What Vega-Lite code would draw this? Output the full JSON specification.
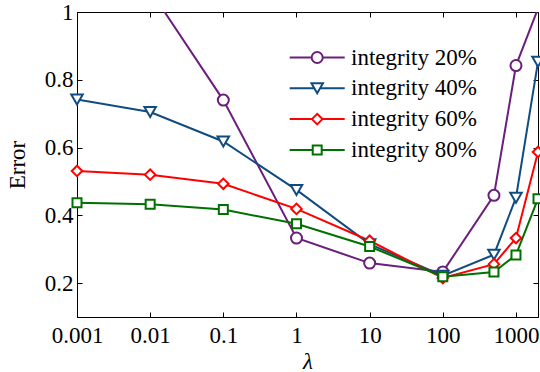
{
  "$schema": "https://vega.github.io/schema/vega-lite/v6.json",
  "width": 461,
  "height": 305,
  "autosize": {"type": "none"},
  "padding": {"left": 77, "top": 12, "right": 2, "bottom": 55},
  "background": "white",
  "config": {
    "font": "'Liberation Serif', 'Times New Roman', Times, serif",
    "view": {"stroke": "black", "strokeWidth": 1},
    "axis": {
      "grid": false,
      "labelFont": "'Liberation Serif', 'Times New Roman', Times, serif",
      "labelFontSize": 23,
      "labelColor": "black",
      "titleFont": "'Liberation Serif', 'Times New Roman', Times, serif",
      "titleFontSize": 23,
      "titleFontWeight": "normal",
      "titleColor": "black",
      "domainColor": "black",
      "tickColor": "black",
      "tickSize": -5,
      "tickWidth": 1
    },
    "legend": {
      "orient": "none",
      "title": null,
      "padding": 0,
      "labelFont": "'Liberation Serif', 'Times New Roman', Times, serif",
      "labelFontSize": 23,
      "labelColor": "black",
      "labelOffset": 22.3,
      "symbolSize": 196,
      "symbolStrokeWidth": 2,
      "symbolFillColor": "white",
      "symbolOpacity": 1
    }
  },
  "data": {
    "values": [
      {"lambda": 0.001, "series": "integrity 20%", "error": 1.15},
      {"lambda": 0.01, "series": "integrity 20%", "error": 1.064},
      {"lambda": 0.1, "series": "integrity 20%", "error": 0.74},
      {"lambda": 1, "series": "integrity 20%", "error": 0.333},
      {"lambda": 10, "series": "integrity 20%", "error": 0.259},
      {"lambda": 100, "series": "integrity 20%", "error": 0.233},
      {"lambda": 500, "series": "integrity 20%", "error": 0.459},
      {"lambda": 1000, "series": "integrity 20%", "error": 0.842},
      {"lambda": 2000, "series": "integrity 20%", "error": 1.01},
      {"lambda": 0.001, "series": "integrity 40%", "error": 0.742},
      {"lambda": 0.01, "series": "integrity 40%", "error": 0.705},
      {"lambda": 0.1, "series": "integrity 40%", "error": 0.618},
      {"lambda": 1, "series": "integrity 40%", "error": 0.475},
      {"lambda": 10, "series": "integrity 40%", "error": 0.315},
      {"lambda": 100, "series": "integrity 40%", "error": 0.222},
      {"lambda": 500, "series": "integrity 40%", "error": 0.284},
      {"lambda": 1000, "series": "integrity 40%", "error": 0.452},
      {"lambda": 2000, "series": "integrity 40%", "error": 0.853},
      {"lambda": 0.001, "series": "integrity 60%", "error": 0.531},
      {"lambda": 0.01, "series": "integrity 60%", "error": 0.52},
      {"lambda": 0.1, "series": "integrity 60%", "error": 0.493},
      {"lambda": 1, "series": "integrity 60%", "error": 0.419},
      {"lambda": 10, "series": "integrity 60%", "error": 0.325},
      {"lambda": 100, "series": "integrity 60%", "error": 0.215},
      {"lambda": 500, "series": "integrity 60%", "error": 0.256},
      {"lambda": 1000, "series": "integrity 60%", "error": 0.333},
      {"lambda": 2000, "series": "integrity 60%", "error": 0.587},
      {"lambda": 0.001, "series": "integrity 80%", "error": 0.437},
      {"lambda": 0.01, "series": "integrity 80%", "error": 0.433},
      {"lambda": 0.1, "series": "integrity 80%", "error": 0.417},
      {"lambda": 1, "series": "integrity 80%", "error": 0.375},
      {"lambda": 10, "series": "integrity 80%", "error": 0.308},
      {"lambda": 100, "series": "integrity 80%", "error": 0.219},
      {"lambda": 500, "series": "integrity 80%", "error": 0.233},
      {"lambda": 1000, "series": "integrity 80%", "error": 0.283},
      {"lambda": 2000, "series": "integrity 80%", "error": 0.449}
    ]
  },
  "layer": [
    {
      "mark": {"type": "line", "clip": true, "strokeWidth": 2},
      "encoding": {
        "x": {
          "field": "lambda", "type": "quantitative",
          "scale": {"type": "log", "domain": [0.001, 2000], "nice": false},
          "axis": {"orient": "bottom", "values": [0.001, 0.01, 0.1, 1, 10, 100, 1000], "format": "~g", "labelPadding": 12, "title": "λ", "titleFontStyle": "italic", "titlePadding": 3, "labelFlush": false, "labelOverlap": false}
        },
        "y": {
          "field": "error", "type": "quantitative",
          "scale": {"domain": [0.1, 1], "nice": false, "zero": false},
          "axis": {"orient": "left", "values": [0.2, 0.4, 0.6, 0.8, 1], "format": ".1~f", "labelPadding": 9, "title": "Error", "titlePadding": 15, "labelFlush": false}
        },
        "color": {
          "field": "series", "type": "nominal",
          "scale": {"domain": ["integrity 20%", "integrity 40%", "integrity 60%", "integrity 80%"], "range": ["#6b1f7b", "#104c80", "#ff0000", "#007000"]},
          "legend": null
        }
      }
    },
    {
      "transform": [{"filter": "datum.series === 'integrity 20%' && datum.error <= 1"}],
      "mark": {"type": "point", "shape": "circle", "size": 121, "filled": false, "fill": "white", "stroke": "#6b1f7b", "strokeWidth": 2, "opacity": 1},
      "encoding": {
        "x": {
          "field": "lambda", "type": "quantitative",
          "axis": {"orient": "top", "values": [0.001, 0.01, 0.1, 1, 10, 100, 1000], "labels": false, "domain": false, "title": null}
        },
        "y": {
          "field": "error", "type": "quantitative",
          "axis": {"orient": "right", "values": [0.2, 0.4, 0.6, 0.8, 1], "labels": false, "domain": false, "title": null}
        }
      }
    },
    {
      "transform": [{"filter": "datum.series === 'integrity 40%' && datum.error <= 1"}],
      "mark": {"type": "point", "shape": "triangle-down", "size": 132, "filled": false, "fill": "white", "stroke": "#104c80", "strokeWidth": 2, "opacity": 1},
      "encoding": {
        "x": {"field": "lambda", "type": "quantitative", "axis": null},
        "y": {"field": "error", "type": "quantitative", "axis": null}
      }
    },
    {
      "transform": [{"filter": "datum.series === 'integrity 60%' && datum.error <= 1"}],
      "mark": {"type": "point", "shape": "diamond", "size": 110, "filled": false, "fill": "white", "stroke": "#ff0000", "strokeWidth": 2, "opacity": 1},
      "encoding": {
        "x": {"field": "lambda", "type": "quantitative", "axis": null},
        "y": {"field": "error", "type": "quantitative", "axis": null}
      }
    },
    {
      "transform": [{"filter": "datum.series === 'integrity 80%' && datum.error <= 1"}],
      "mark": {"type": "point", "shape": "square", "size": 81, "filled": false, "fill": "white", "stroke": "#007000", "strokeWidth": 2, "opacity": 1},
      "encoding": {
        "x": {"field": "lambda", "type": "quantitative", "axis": null},
        "y": {"field": "error", "type": "quantitative", "axis": null}
      }
    },
    {
      "description": "Key entry for integrity 20%: no rows pass the filter, the entry comes from the explicit domain.",
      "transform": [{"filter": "datum.error > 100"}],
      "mark": {"type": "point", "filled": false, "stroke": "#6b1f7b", "strokeWidth": 2, "size": 196, "opacity": 1},
      "encoding": {
        "x": {"field": "lambda", "type": "quantitative", "axis": null},
        "y": {"field": "error", "type": "quantitative", "axis": null},
        "shape": {
          "field": "series", "type": "nominal",
          "scale": {"domain": ["integrity 20%"], "range": ["M-3.93,0H-0.79M0.79,0H3.93M0.79,0A0.79,0.79,0,1,1,-0.79,0A0.79,0.79,0,1,1,0.79,0Z"]},
          "legend": {"legendX": 228.7, "legendY": 34, "symbolStrokeColor": "#6b1f7b", "symbolOpacity": 1}
        }
      }
    },
    {
      "description": "Key entry for integrity 40%.",
      "transform": [{"filter": "datum.error > 100"}],
      "mark": {"type": "point", "filled": false, "stroke": "#104c80", "strokeWidth": 2, "size": 196, "opacity": 1},
      "encoding": {
        "x": {"field": "lambda", "type": "quantitative", "axis": null},
        "y": {"field": "error", "type": "quantitative", "axis": null},
        "shape": {
          "field": "series", "type": "nominal",
          "scale": {"domain": ["integrity 40%"], "range": ["M-3.93,0H-0.41M0.41,0H3.93M0,0.71L-0.82,-0.71L0.82,-0.71Z"]},
          "legend": {"legendX": 228.7, "legendY": 64.8, "symbolStrokeColor": "#104c80", "symbolOpacity": 1}
        }
      }
    },
    {
      "description": "Key entry for integrity 60%.",
      "transform": [{"filter": "datum.error > 100"}],
      "mark": {"type": "point", "filled": false, "stroke": "#ff0000", "strokeWidth": 2, "size": 196, "opacity": 1},
      "encoding": {
        "x": {"field": "lambda", "type": "quantitative", "axis": null},
        "y": {"field": "error", "type": "quantitative", "axis": null},
        "shape": {
          "field": "series", "type": "nominal",
          "scale": {"domain": ["integrity 60%"], "range": ["M-3.93,0H-0.75M0.75,0H3.93M-0.75,0L0,-0.75L0.75,0L0,0.75Z"]},
          "legend": {"legendX": 228.7, "legendY": 95.6, "symbolStrokeColor": "#ff0000", "symbolOpacity": 1}
        }
      }
    },
    {
      "description": "Key entry for integrity 80%.",
      "transform": [{"filter": "datum.error > 100"}],
      "mark": {"type": "point", "filled": false, "stroke": "#007000", "strokeWidth": 2, "size": 196, "opacity": 1},
      "encoding": {
        "x": {"field": "lambda", "type": "quantitative", "axis": null},
        "y": {"field": "error", "type": "quantitative", "axis": null},
        "shape": {
          "field": "series", "type": "nominal",
          "scale": {"domain": ["integrity 80%"], "range": ["M-3.93,0H-0.64M0.64,0H3.93M-0.64,-0.64H0.64V0.64H-0.64Z"]},
          "legend": {"legendX": 228.7, "legendY": 126.4, "symbolStrokeColor": "#007000", "symbolOpacity": 1}
        }
      }
    }
  ],
  "resolve": {
    "scale": {"shape": "independent"},
    "axis": {"x": "independent", "y": "independent"}
  }
}
